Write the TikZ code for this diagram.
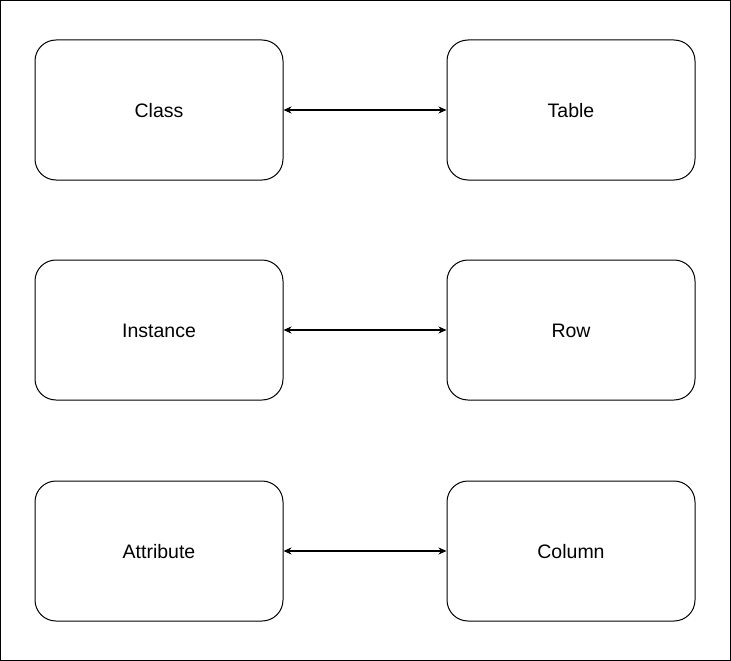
\documentclass[tikz,border=0pt]{standalone}
\usepackage{fontspec}
\setmainfont{Liberation Sans}
\usetikzlibrary{arrows.meta}
\begin{document}
\begin{tikzpicture}[x=1pt,y=-1pt,
  box/.style={draw=black, line width=1pt, rounded corners=21pt, minimum width=248pt, minimum height=140pt, inner sep=0pt, font=\fontsize{19.5}{22}\selectfont},
  lbl/.style={font=\fontsize{19.5}{22}\selectfont, inner sep=0pt},
  link/.style={line width=1.2pt, {Stealth[length=8pt,width=7pt,inset=2.5pt]}-{Stealth[length=8pt,width=7pt,inset=2.5pt]}}]
\useasboundingbox (0,0) rectangle (731,661);
\draw[line width=1pt] (0.5,0.5) rectangle (730,660);
\node[box] (class) at (159,110) {};
\node[box] (table) at (571,110) {};
\node[box] (instance) at (159,330) {};
\node[box] (row) at (571,330) {};
\node[box] (attribute) at (159,551) {};
\node[box] (column) at (571,551) {};
\node[lbl] (tclass) at ([yshift=-1pt]class.center) {Class};
\node[lbl] (ttable) at ([yshift=-1pt]table.center) {Table};
\node[lbl] (tinstance) at ([yshift=-1pt]instance.center) {Instance};
\node[lbl] (trow) at ([yshift=-1pt]row.center) {Row};
\node[lbl] (tattribute) at ([yshift=-1pt]attribute.center) {Attribute};
\node[lbl] (tcolumn) at ([yshift=-1pt]column.center) {Column};
\draw[link] (class) -- (table);
\draw[link] (instance) -- (row);
\draw[link] (attribute) -- (column);
\end{tikzpicture}
\end{document}
